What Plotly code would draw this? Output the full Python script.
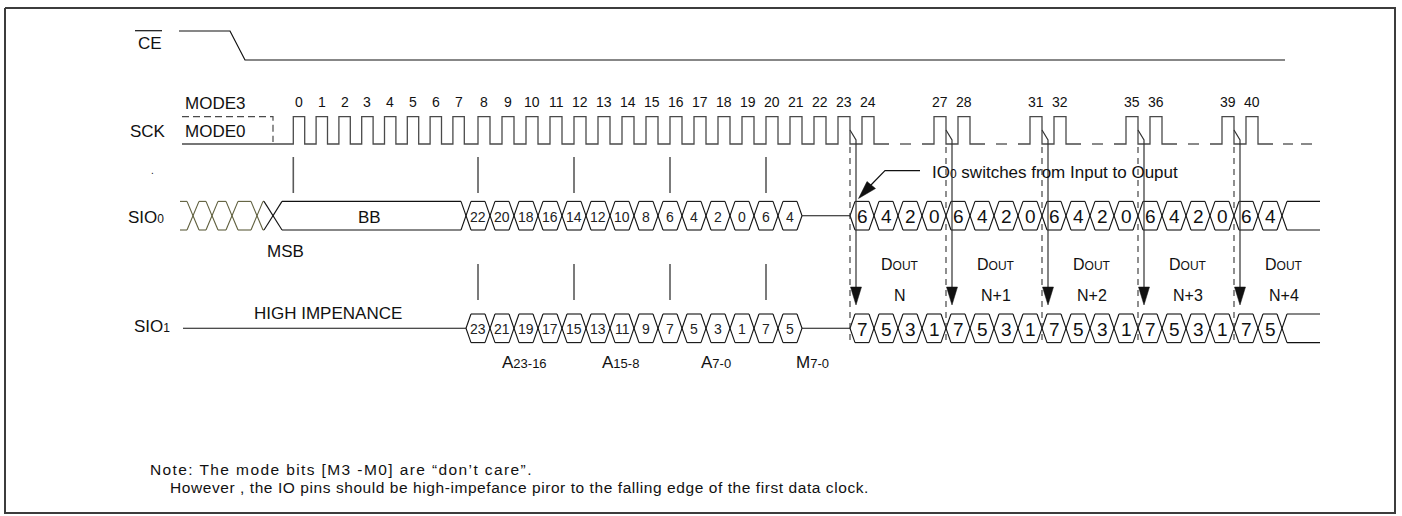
import plotly.graph_objects as go

# ---------------- data ----------------
dense_clocks = list(range(0, 25))                  # clocks 0..24 drawn back to back
output_clock_groups = [[27, 28], [31, 32], [35, 36], [39, 40]]
upper_tick_clocks = [0, 8, 12, 16, 20]
dont_care_crossings = 4
bb_label = "BB"
sio0_addr_bits = ["22", "20", "18", "16", "14", "12", "10", "8", "6", "4", "2", "0", "6", "4"]
sio1_addr_bits = ["23", "21", "19", "17", "15", "13", "11", "9", "7", "5", "3", "1", "7", "5"]
dummy_cells = 2
sio0_out_bits = ["6", "4", "2", "0"] * 4 + ["6", "4"]
sio1_out_bits = ["7", "5", "3", "1"] * 4 + ["7", "5"]
field_names = ["A", "A", "A", "M"]
field_ranges = ["23-16", "15-8", "7-0", "7-0"]
dout_labels = ["N", "N+1", "N+2", "N+3", "N+4"]
note_lines = ["Note: The mode bits [M3 -M0] are \u201cdon\u2019t care\u201d.",
              "However , the IO pins should be high-impefance piror to the falling edge of the first data clock."]

# ---------------- drawing geometry (pixel scale of the axes) ----------------
W, H = 1402, 516
FONT = "Liberation Sans, Arial, sans-serif"
WAVE_X0 = 182
CLK_HIGH, CLK_LOW = 116.7, 144
CMD_X0, CMD_P = 293.3, 22.8        # clocks 0..7 (command phase) as drawn
FIRST_ADDR_CLK = 8
DATA_X0, DATA_P = 466, 24          # data cell grid (clock 8 onward sits on it)
S0_Y, S1_Y, BUS_H, HEX_S = 215.7, 328.3, 14.3, 5
TAIL_END = 1320

fig = go.Figure()


def add_lines(segs, color, width, dash=None):
    xs, ys = [], []
    for seg in segs:
        for x, y in seg:
            xs.append(x)
            ys.append(y)
        xs.append(None)
        ys.append(None)
    fig.add_trace(go.Scatter(x=xs, y=ys, mode="lines", hoverinfo="skip", showlegend=False,
                             line=dict(color=color, width=width, dash=dash)))


def add_tri(pts, color="#111111"):
    xs = [p[0] for p in pts] + [pts[0][0]]
    ys = [p[1] for p in pts] + [pts[0][1]]
    fig.add_trace(go.Scatter(x=xs, y=ys, mode="lines", fill="toself", fillcolor=color,
                             line=dict(color=color, width=0.5), hoverinfo="skip", showlegend=False))


def text(x, y, s, size=17, anchor="center", color="#111111"):
    fig.add_annotation(x=x, y=y, xref="x", yref="y", text=s, showarrow=False,
                       xanchor=anchor, yanchor="middle",
                       font=dict(family=FONT, size=size, color=color))


def period(n):
    return CMD_P if n < FIRST_ADDR_CLK else DATA_P


def rise(n):
    if n < FIRST_ADDR_CLK:
        return CMD_X0 + CMD_P * n
    return DATA_X0 + (n - FIRST_ADDR_CLK + 0.5) * DATA_P


def fall(n):
    return rise(n) + period(n) / 2


def cell_left(k):
    return DATA_X0 + k * DATA_P


def bus(edges, kinds, svals, yc):
    yt, yb = yc - BUS_H, yc + BUS_H
    segs = []
    for x, kind, s in zip(edges, kinds, svals):
        if kind == "open":
            segs += [[(x, yc), (x + s, yt)], [(x, yc), (x + s, yb)]]
        elif kind == "cross":
            segs += [[(x - s, yt), (x + s, yb)], [(x - s, yb), (x + s, yt)]]
        elif kind == "close":
            segs += [[(x - s, yt), (x, yc)], [(x - s, yb), (x, yc)]]
    for i in range(len(edges) - 1):
        xl = edges[i] + (0 if kinds[i] == "flat" else svals[i])
        xr = edges[i + 1] - (0 if kinds[i + 1] == "flat" else svals[i + 1])
        segs += [[(xl, yt), (xr, yt)], [(xl, yb), (xr, yb)]]
    return segs


# ---------------- border ----------------
add_lines([[(5, 8), (1395, 8), (1395, 513), (5, 513), (5, 8)]], "#3c3c3c", 2)

# ---------------- CE# ----------------
add_lines([[(179, 31), (230, 31), (245, 60), (1285, 60)]], "#111111", 1.2)
add_lines([[(135, 30.7), (162, 30.7)]], "#111111", 1.2)
text(150, 43, "CE")

# ---------------- SCK ----------------
runs = [dense_clocks] + output_clock_groups
clk_segs, run_ends = [], []
for r, run in enumerate(runs):
    x_start = WAVE_X0 if r == 0 else rise(run[0]) - 12
    pts = [(x_start, CLK_LOW)]
    for n in run:
        pts += [(rise(n), CLK_LOW), (rise(n), CLK_HIGH), (fall(n), CLK_HIGH), (fall(n), CLK_LOW)]
    x_end = fall(run[-1]) + 15
    pts.append((x_end, CLK_LOW))
    clk_segs.append(pts)
    run_ends.append((x_start, x_end))
for r in range(len(runs) - 1):
    mid = (run_ends[r][1] + run_ends[r + 1][0]) / 2
    clk_segs.append([(mid - 5.5, CLK_LOW), (mid + 5.5, CLK_LOW)])
last_end = run_ends[-1][1]
clk_segs.append([(last_end + 10, CLK_LOW), (last_end + 20, CLK_LOW)])
clk_segs.append([(last_end + 28, CLK_LOW), (last_end + 39, CLK_LOW)])
add_lines(clk_segs, "#4a4a4a", 1.3)
# MODE3 idle-high (dashed)
add_lines([[(WAVE_X0, CLK_HIGH), (273, CLK_HIGH), (273, CLK_LOW - 2)]], "#4a4a4a", 1.2, "7px,4px")
text(183, 103, "MODE3", anchor="left")
text(183, 131, "MODE0", anchor="left")
text(128, 131, "SCK", anchor="left")
all_clocks = dense_clocks + [n for g in output_clock_groups for n in g]
for n in all_clocks:
    text((rise(n) + fall(n)) / 2, 102, str(n), size=14)

# sampling ticks
add_lines([[(rise(n), 157), (rise(n), 193)] for n in upper_tick_clocks], "#5a5a5a", 1.6)
lower_ticks = [cell_left(4 * i) + DATA_P / 2 for i in range(len(field_names))]
add_lines([[(x, 264), (x, 300)] for x in lower_ticks], "#5a5a5a", 1.6)

# ---------------- SIO0 ----------------
n_addr = len(sio0_addr_bits)
dc_edges = [180, 193, 212, 232, 257]
edges0 = dc_edges + [273] + [cell_left(k) for k in range(n_addr)] + [cell_left(n_addr)]
kinds0 = ["flat"] + ["cross"] * dont_care_crossings + ["cross"] + ["cross"] * n_addr + ["close"]
svals0 = [0] + [6] * dont_care_crossings + [9] + [HEX_S] * (n_addr + 1)
segs0 = bus(edges0, kinds0, svals0, S0_Y)
dc_segs = [s for s in segs0 if (s[0][0] + s[-1][0]) / 2 < 269]
main_segs = [s for s in segs0 if (s[0][0] + s[-1][0]) / 2 >= 269]
add_lines(dc_segs, "#5e5e3c", 1.1)
add_lines(main_segs, "#111111", 1.1)

out_k0 = n_addr + dummy_cells
n_out = len(sio0_out_bits)
out_edges = [cell_left(out_k0 + j) for j in range(n_out + 1)] + [TAIL_END]
out_kinds = ["open"] + ["cross"] * n_out + ["flat"]
out_s = [HEX_S] * (n_out + 1) + [0]
for yc in (S0_Y, S1_Y):
    add_lines([[(cell_left(n_addr), yc), (cell_left(out_k0), yc)]], "#111111", 1.1)
    add_lines(bus(out_edges, out_kinds, out_s, yc), "#111111", 1.1)

text(126, 217, "SIO<span style='font-size:12px'>0</span>", anchor="left")
text(369, 217, bb_label)
text(285, 251, "MSB")
text(152, 170, ".", size=10)
for k, b in enumerate(sio0_addr_bits):
    text(cell_left(k) + DATA_P / 2, S0_Y + 1, b, size=14, color="#222222")
for j, b in enumerate(sio0_out_bits):
    text(cell_left(out_k0 + j) + DATA_P / 2, S0_Y + 1, b, size=19)

# ---------------- SIO1 ----------------
add_lines([[(183, S1_Y), (cell_left(0), S1_Y)]], "#111111", 1.1)
edges1 = [cell_left(k) for k in range(n_addr + 1)]
kinds1 = ["open"] + ["cross"] * (n_addr - 1) + ["close"]
add_lines(bus(edges1, kinds1, [HEX_S] * (n_addr + 1), S1_Y), "#111111", 1.1)
text(132, 326, "SIO<span style='font-size:12px'>1</span>", anchor="left")
text(328, 313, "HIGH IMPENANCE")
for k, b in enumerate(sio1_addr_bits):
    text(cell_left(k) + DATA_P / 2, S1_Y + 1, b, size=14, color="#222222")
for j, b in enumerate(sio1_out_bits):
    text(cell_left(out_k0 + j) + DATA_P / 2, S1_Y + 1, b, size=19)

for x, nm, rg in zip(lower_ticks, field_names, field_ranges):
    text(x + 46, 362, nm + "<span style='font-size:13px'>" + rg + "</span>", size=17)

# ---------------- output bytes: dashed boundaries and arrows ----------------
n_bytes = len(dout_labels)
byte_x = [cell_left(out_k0 + 4 * j) for j in range(n_bytes)]
add_lines([[(x, 147), (x, 340)] for x in byte_x], "#333333", 1.1, "6px,5px")
add_lines([[(x, 130), (x + 6, 140), (x + 6, 290)] for x in byte_x], "#333333", 1.2)
for x in byte_x:
    add_tri([(x + 0.5, 287), (x + 11.5, 287), (x + 6, 305)])
for x, lab in zip(byte_x, dout_labels):
    text(x + 50, 264, "D<span style='font-size:12px'>OUT</span>", size=16)
    text(x + 50, 295, lab, size=16)

# IO0 annotation
add_lines([[(920, 170.7), (885, 170.7), (870, 186)]], "#111111", 1.2)
add_tri([(858.5, 198.5), (875.5, 188.5), (867.0, 181.5)])
text(930, 172, "IO<span style='font-size:12px'>0</span> switches from Input to Ouput", anchor="left")

# ---------------- note ----------------
text(148, 469, "<span style='letter-spacing:1.4px'>" + note_lines[0] + "</span>", size=15.5, anchor="left")
text(168, 487, "<span style='letter-spacing:0.57px'>" + note_lines[1] + "</span>", size=15.5, anchor="left")

fig.update_layout(width=W, height=H, margin=dict(l=0, r=0, t=0, b=0),
                  paper_bgcolor="white", plot_bgcolor="white", showlegend=False,
                  xaxis=dict(range=[0, W], visible=False, fixedrange=True),
                  yaxis=dict(range=[H, 0], visible=False, fixedrange=True))
fig.write_html("out.html", config={"displayModeBar": False},
               post_script="document.body.style.margin='0px';document.body.style.overflow='hidden';")
